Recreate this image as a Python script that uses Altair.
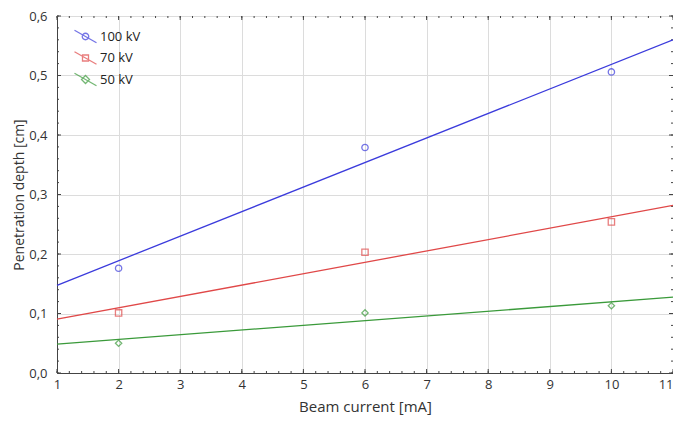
import altair as alt
import pandas as pd

# ---- data ----
currents = [2, 6, 10]
series_names = ["100 kV", "70 kV", "50 kV"]
depth_100kv = [0.176, 0.379, 0.506]
depth_70kv = [0.101, 0.203, 0.254]
depth_50kv = [0.050, 0.101, 0.113]

colors = ["#3b3bdc", "#e04848", "#3a9a3a"]
shapes = ["circle", "square", "diamond"]

x_ticks = [1, 2, 3, 4, 5, 6, 7, 8, 9, 10, 11]
y_ticks = [0.0, 0.1, 0.2, 0.3, 0.4, 0.5, 0.6]
x_minor = [round(1 + 0.2 * i, 2) for i in range(51)]
y_minor = [round(0.02 * i, 2) for i in range(31)]

rows = []
for name, vals in zip(series_names, [depth_100kv, depth_70kv, depth_50kv]):
    for c, v in zip(currents, vals):
        rows.append({"series": name, "current": c, "depth": v})
df = pd.DataFrame(rows)

W, H = 616, 357
FONT = "Open Sans"

# legend symbols: a short diagonal line with the series marker on it
LINE = "M-2.2,-1.25L2.2,1.25"
legend_paths = [
    LINE + "M0.65,0A0.65,0.65,0,1,1,-0.65,0A0.65,0.65,0,1,1,0.65,0Z",
    LINE + "M-0.6,-0.6L0.6,-0.6L0.6,0.6L-0.6,0.6Z",
    LINE + "M0,-0.8L0.8,0L0,0.8L-0.8,0Z",
]

x_scale = alt.Scale(domain=[1, 11], nice=False, zero=False)
y_scale = alt.Scale(domain=[0, 0.6], nice=False, zero=False)
color_scale = alt.Scale(domain=series_names, range=colors)
shape_scale = alt.Scale(domain=series_names, range=shapes)
legend_shape_scale = alt.Scale(domain=series_names, range=legend_paths)

x_axis = alt.Axis(values=x_ticks, format="d", title="Beam current [mA]", grid=True,
                  tickSize=0, labelPadding=5, labelFontSize=13, labelColor="#333",
                  labelAlign=alt.ExprRef("datum.value == 11 ? 'right' : 'center'"),
                  titleFontSize=15, titleFontWeight="normal", titleColor="#333",
                  titlePadding=8, labelFont=FONT, titleFont=FONT)
y_axis = alt.Axis(values=y_ticks, title="Penetration depth [cm]", grid=True,
                  labelExpr="replace(format(datum.value, '.1f'), '.', ',')",
                  tickSize=0, labelPadding=10, labelFontSize=13, labelColor="#333",
                  titleFontSize=14, titleFontWeight="normal", titleColor="#333",
                  titlePadding=2, labelFont=FONT, titleFont=FONT)

X = lambda f: alt.X(f, scale=x_scale, axis=x_axis)
Y = lambda f: alt.Y(f, scale=y_scale, axis=y_axis)

lines = alt.Chart(df).transform_regression(
    "current", "depth", groupby=["series"], extent=[1, 11]
).mark_line(strokeWidth=1.3).encode(
    x=X("current:Q"), y=Y("depth:Q"),
    color=alt.Color("series:N", scale=color_scale, legend=None),
)

points = alt.Chart(df).mark_point(filled=False, size=40, strokeWidth=1.3).encode(
    x=X("current:Q"), y=Y("depth:Q"),
    color=alt.Color("series:N", scale=color_scale, legend=None),
    shape=alt.Shape("series:N", scale=shape_scale, legend=None),
)

leg = alt.Legend(title=None, orient="none", legendX=22, legendY=14,
                 symbolSize=100, symbolStrokeWidth=1.3, symbolFillColor="transparent",
                 labelFontSize=13, labelFont=FONT, labelColor="#222",
                 labelOffset=8, rowPadding=2.5, padding=0)
legend_only = alt.Chart(df).transform_filter("false").mark_point(
    filled=False, strokeWidth=1.3
).encode(
    x=X("current:Q"), y=Y("depth:Q"),
    color=alt.Color("series:N", scale=color_scale, legend=leg),
    shape=alt.Shape("series:N", scale=legend_shape_scale, legend=leg),
)

tick_color = "#444"
xmaj = pd.DataFrame({"v": x_ticks})
xmin = pd.DataFrame({"v": x_minor})
ymaj = pd.DataFrame({"v": y_ticks})
ymin = pd.DataFrame({"v": y_minor})

def xticks(data, length):
    base = alt.Chart(data).mark_rule(color=tick_color, strokeWidth=1)
    return [base.encode(x=X("v:Q"), y=alt.value(H), y2=alt.value(H - length)),
            base.encode(x=X("v:Q"), y=alt.value(0), y2=alt.value(length))]

def yticks(data, length):
    base = alt.Chart(data).mark_rule(color=tick_color, strokeWidth=1)
    return [base.encode(y=Y("v:Q"), x=alt.value(0), x2=alt.value(length)),
            base.encode(y=Y("v:Q"), x=alt.value(W), x2=alt.value(W - length))]

tick_layers = xticks(xmaj, 4) + xticks(xmin, 2) + yticks(ymaj, 4) + yticks(ymin, 2)

chart = alt.layer(*tick_layers, lines, points, legend_only).resolve_scale(
    color="independent", shape="independent"
).properties(
    width=W, height=H,
    padding={"left": 49, "top": 8, "right": 0, "bottom": 42},
    autosize=alt.AutoSizeParams(type="none"),
).configure(font=FONT, background="white").configure_view(
    stroke="#444", strokeWidth=1
).configure_axis(
    domainColor="#444", domainWidth=1, gridColor="#dcdcdc", gridWidth=1
)

chart.save("out.html", embed_options={"renderer": "svg", "actions": False})
